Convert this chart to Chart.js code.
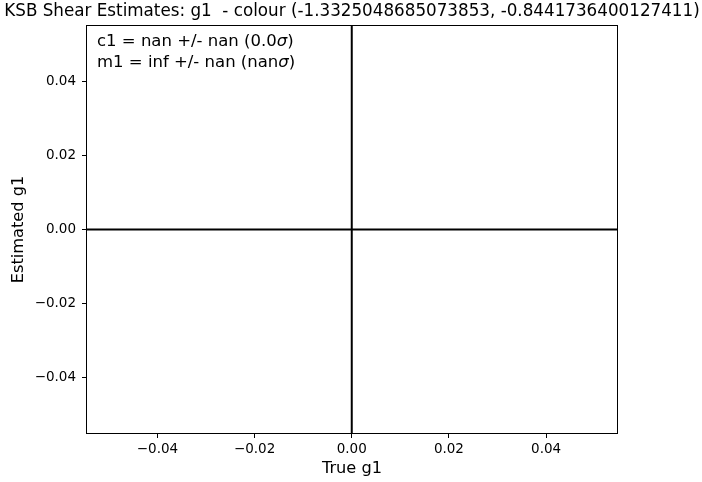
<!DOCTYPE html>
<html>
<head>
<meta charset="utf-8">
<script src="https://cdn.jsdelivr.net/npm/chart.js@4.4.1/dist/chart.umd.min.js"></script>
<style>
  html, body { margin: 0; padding: 0; background: #fff; }
  #wrap { width: 702px; height: 482px; }
</style>
</head>
<body>
<div id="wrap"><canvas id="shearChart"></canvas></div>
<script>
// Chart data
const chartTitle = 'KSB Shear Estimates: g1  - colour (-1.3325048685073853, -0.8441736400127411)';
const xLabel = 'True g1';
const yLabel = 'Estimated g1';
const xTicks = [-0.04, -0.02, 0.00, 0.02, 0.04];
const yTicks = [-0.04, -0.02, 0.00, 0.02, 0.04];
const xRange = [-0.0547, 0.0548];
const yRange = [-0.0551, 0.0551];
// zero lines (horizontal and vertical)
const hLineX = [-0.06, 0.06];
const hLineY = [0, 0];
const vLineX = [0, 0];
const vLineY = [-0.06, 0.06];
// fit result lines: [prefix, suffix] around the sigma
const fitLines = [
    ['c1 = nan +/- nan (0.0', ')'],
    ['m1 = inf +/- nan (nan', ')']
];

const FONT = 'DejaVu Sans';

function fmtTick(v) {
    const s = Math.abs(v).toFixed(2);
    return (v < -1e-9 ? '\u2212' : '') + s;
}

// draws the frame, title and the fit text
const extras = {
    id: 'extras',
    afterDraw(chart) {
        const ctx = chart.ctx;
        const a = chart.chartArea;
        ctx.save();
        ctx.strokeStyle = '#000';
        ctx.lineWidth = 1;
        ctx.strokeRect(a.left + 0.5, a.top + 0.5, a.right - a.left - 1, a.bottom - a.top - 1);

        ctx.fillStyle = '#000';
        ctx.textBaseline = 'middle';
        ctx.textAlign = 'center';
        ctx.font = '16.75px "' + FONT + '"';
        ctx.fillText(chartTitle, (a.left + a.right) / 2, 12);

        ctx.textAlign = 'left';
        fitLines.forEach(function(parts, i) {
            let x = a.left + 11;
            const y = a.top + 17 + i * 21;
            ctx.font = '16.5px "' + FONT + '"';
            ctx.fillText(parts[0], x, y);
            x += ctx.measureText(parts[0]).width;
            ctx.font = 'italic 16.5px "' + FONT + '"';
            ctx.fillText('\u03c3', x, y);
            x += ctx.measureText('\u03c3').width;
            ctx.font = '16.5px "' + FONT + '"';
            ctx.fillText(parts[1], x, y);
        });
        ctx.restore();
    }
};

const ctx = document.getElementById('shearChart').getContext('2d');
const shearChart = new Chart(ctx, {
    type: 'scatter',
    data: {
        datasets: [
            {
                label: 'y = 0',
                data: hLineX.map((x, i) => ({ x: x, y: hLineY[i] })),
                showLine: true,
                borderColor: '#000',
                borderWidth: 2,
                pointRadius: 0
            },
            {
                label: 'x = 0',
                data: vLineX.map((x, i) => ({ x: x, y: vLineY[i] })),
                showLine: true,
                borderColor: '#000',
                borderWidth: 2,
                pointRadius: 0
            }
        ]
    },
    options: {
        responsive: true,
        maintainAspectRatio: false,
        animation: false,
        layout: {
            padding: { left: 0, right: 84, top: 25, bottom: 0 }
        },
        plugins: {
            legend: { display: false },
            tooltip: { enabled: false }
        },
        scales: {
            x: {
                type: 'linear',
                min: xRange[0],
                max: xRange[1],
                afterBuildTicks: function(axis) {
                    axis.ticks = xTicks.map(v => ({ value: v }));
                },
                afterFit: function(axis) { axis.height = 48; },
                grid: {
                    drawOnChartArea: false,
                    drawTicks: true,
                    tickLength: 4,
                    color: '#000'
                },
                border: { display: false },
                ticks: {
                    color: '#000',
                    padding: 3,
                    maxRotation: 0,
                    font: { family: FONT, size: 13.5 },
                    callback: function(v) { return fmtTick(v); }
                },
                title: {
                    display: true,
                    text: xLabel,
                    color: '#000',
                    font: { family: FONT, size: 16.2 },
                    padding: { top: 4, bottom: 3 }
                }
            },
            y: {
                type: 'linear',
                min: yRange[0],
                max: yRange[1],
                afterBuildTicks: function(axis) {
                    axis.ticks = yTicks.map(v => ({ value: v }));
                },
                afterFit: function(axis) { axis.width = 86; },
                grid: {
                    drawOnChartArea: false,
                    drawTicks: true,
                    tickLength: 4,
                    color: '#000'
                },
                border: { display: false },
                ticks: {
                    color: '#000',
                    padding: 6,
                    font: { family: FONT, size: 13.5 },
                    callback: function(v) { return fmtTick(v); }
                },
                title: {
                    display: true,
                    text: yLabel,
                    color: '#000',
                    font: { family: FONT, size: 16.2 },
                    padding: { top: 9, bottom: 0 }
                }
            }
        }
    },
    plugins: [extras]
});
</script>
</body>
</html>
